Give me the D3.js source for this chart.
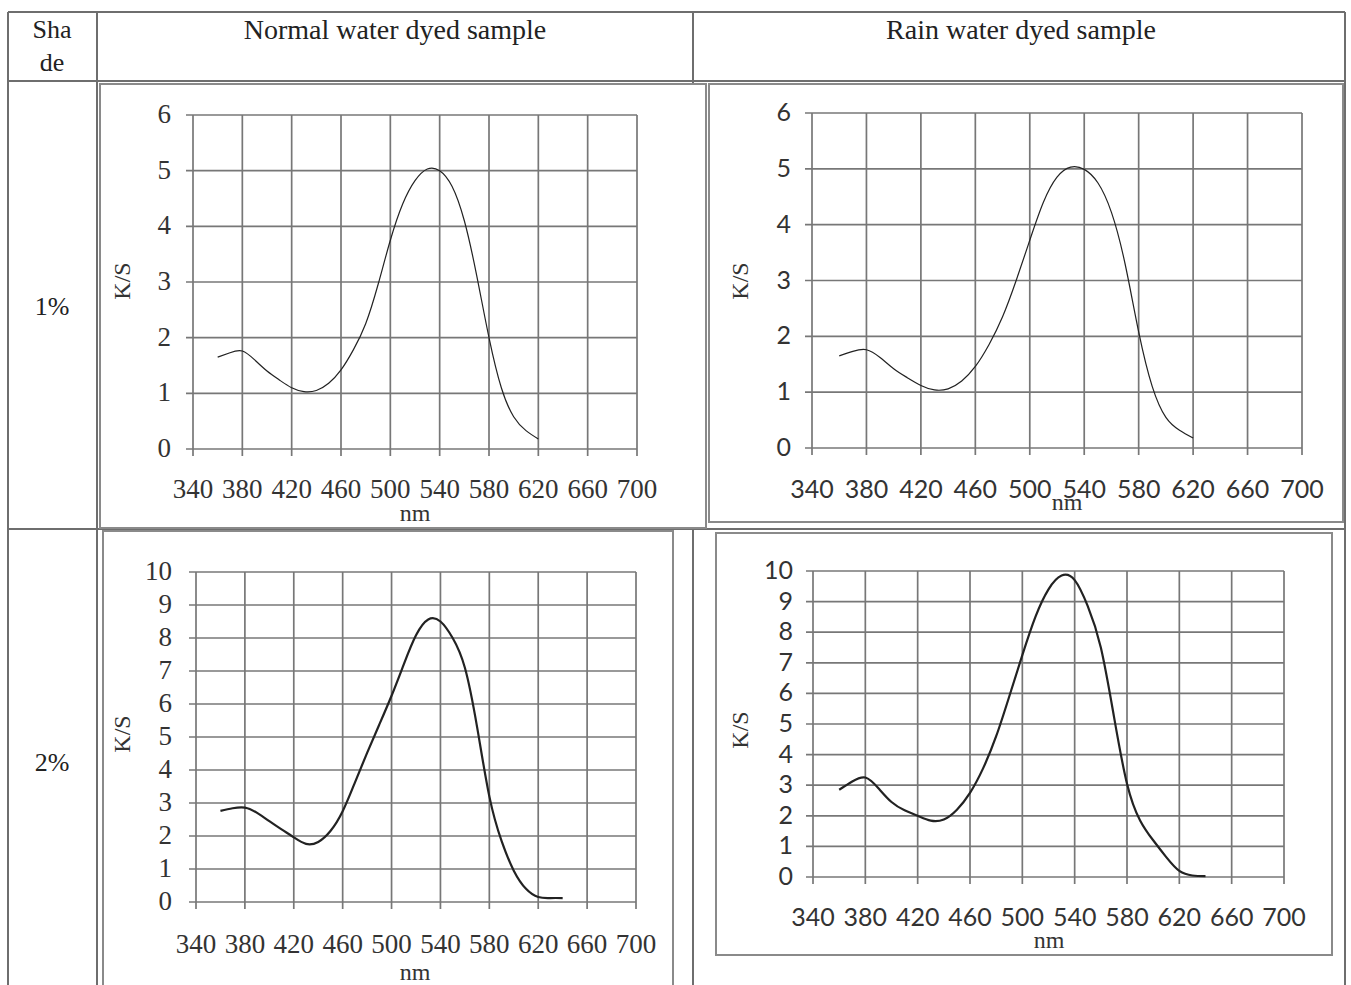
<!DOCTYPE html>
<html>
<head>
<meta charset="utf-8">
<script src="https://cdn.jsdelivr.net/npm/d3@7"></script>
<style>
  body { margin: 0; background: #fff; }
  svg { display: block; }
</style>
</head>
<body>
<svg id="chart" width="1351" height="985"></svg>
<script>
(function () {
    'use strict';

    // wavelength (nm) at which K/S was measured
    var wavelength1 = [360, 370, 380, 390, 400, 410, 420, 430, 440, 450, 460, 470, 480, 490, 500,
        510, 520, 530, 540, 550, 560, 570, 580, 590, 600, 610, 620];
    var wavelength2 = wavelength1.concat([630, 640]);

    // K/S values
    var normal1 = [1.65, 1.73, 1.76, 1.60, 1.40, 1.24, 1.10, 1.03, 1.05, 1.18, 1.42, 1.78, 2.25, 2.95, 3.75,
        4.40, 4.82, 5.03, 5.00, 4.72, 4.10, 3.12, 2.00, 1.10, 0.58, 0.33, 0.18];
    var rain1 = [1.65, 1.73, 1.76, 1.62, 1.42, 1.26, 1.12, 1.04, 1.06, 1.20, 1.46, 1.85, 2.35, 3.00, 3.72,
        4.40, 4.85, 5.03, 4.99, 4.75, 4.22, 3.30, 2.08, 1.10, 0.55, 0.32, 0.18];
    var normal2 = [2.76, 2.84, 2.86, 2.70, 2.45, 2.20, 1.96, 1.76, 1.82, 2.15, 2.75, 3.62, 4.52, 5.38, 6.25,
        7.20, 8.08, 8.56, 8.50, 8.00, 7.10, 5.30, 3.20, 1.85, 0.95, 0.40, 0.15, 0.12, 0.12];
    var rain2 = [2.85, 3.12, 3.25, 2.90, 2.45, 2.18, 2.00, 1.84, 1.88, 2.20, 2.75, 3.55, 4.60, 5.90, 7.25,
        8.50, 9.40, 9.85, 9.70, 8.85, 7.50, 5.25, 3.05, 1.85, 1.20, 0.65, 0.20, 0.05, 0.03];

    var xTicks = [340, 380, 420, 460, 500, 540, 580, 620, 660, 700];
    var yTicks1 = [0, 1, 2, 3, 4, 5, 6];
    var yTicks2 = [0, 1, 2, 3, 4, 5, 6, 7, 8, 9, 10];

    var columnTitles = ['Normal water dyed sample', 'Rain water dyed sample'];
    var shadeLabels = ['1%', '2%'];

    var svg = d3.select('#chart');
    var serif = '"Liberation Serif", "DejaVu Serif", serif';
    var sans = 'Lato, "Open Sans", sans-serif';

    // table frame
    var tableColor = '#6e6e6e';
    var hLines = [12, 81, 529];
    var vLines = [8, 97, 693, 1345];
    hLines.forEach(function (y) {
        svg.append('line').attr('x1', 8).attr('x2', 1345).attr('y1', y).attr('y2', y)
            .attr('stroke', tableColor).attr('stroke-width', 2);
    });
    vLines.forEach(function (x) {
        svg.append('line').attr('x1', x).attr('x2', x).attr('y1', 12).attr('y2', 985)
            .attr('stroke', tableColor).attr('stroke-width', 2);
    });

    svg.append('text').attr('x', 52).attr('y', 38).attr('text-anchor', 'middle')
        .style('font-family', serif).style('font-size', '26px').attr('fill', '#222').text('Sha');
    svg.append('text').attr('x', 52).attr('y', 71).attr('text-anchor', 'middle')
        .style('font-family', serif).style('font-size', '26px').attr('fill', '#222').text('de');

    [395, 1021].forEach(function (cx, i) {
        svg.append('text').attr('x', cx).attr('y', 39).attr('text-anchor', 'middle')
            .style('font-family', serif).style('font-size', '28px').attr('fill', '#222')
            .text(columnTitles[i]);
    });
    [315, 771].forEach(function (y, i) {
        svg.append('text').attr('x', 52).attr('y', y).attr('text-anchor', 'middle')
            .style('font-family', serif).style('font-size', '26px').attr('fill', '#222')
            .text(shadeLabels[i]);
    });

    var charts = [
        {box: [100, 84, 706, 528], x0: 193, x1: 637, yTop: 115, yBot: 449, yMax: 6, yTicks: yTicks1,
            yLabX: 171, xLabY: 498, nm: [415, 521], ks: [122, 281], font: serif, fs: 27, width: 1.2,
            xs: wavelength1, ys: normal1},
        {box: [709, 84, 1343, 522], x0: 812, x1: 1302, yTop: 113, yBot: 448, yMax: 6, yTicks: yTicks1,
            yLabX: 791, xLabY: 498, nm: [1067, 510], ks: [740, 281], font: sans, fs: 25, width: 1.2,
            xs: wavelength1, ys: rain1},
        {box: [103, 531, 673, 992], x0: 196, x1: 636, yTop: 572, yBot: 902, yMax: 10, yTicks: yTicks2,
            yLabX: 172, xLabY: 953, nm: [415, 980], ks: [122, 734], font: serif, fs: 27, width: 2.2,
            xs: wavelength2, ys: normal2},
        {box: [716, 533, 1332, 955], x0: 813, x1: 1284, yTop: 571, yBot: 877, yMax: 10, yTicks: yTicks2,
            yLabX: 793, xLabY: 926, nm: [1049, 948], ks: [740, 730], font: sans, fs: 25, width: 2.2,
            xs: wavelength2, ys: rain2}
    ];

    charts.forEach(drawChart);

    function drawChart(c) {
        var g = svg.append('g');
        var gridColor = '#777';

        g.append('rect')
            .attr('x', c.box[0]).attr('y', c.box[1])
            .attr('width', c.box[2] - c.box[0]).attr('height', c.box[3] - c.box[1])
            .attr('fill', '#fff').attr('stroke', '#8a8a8a').attr('stroke-width', 2);

        var x = d3.scaleLinear().domain([340, 700]).range([c.x0, c.x1]);
        var y = d3.scaleLinear().domain([0, c.yMax]).range([c.yBot, c.yTop]);

        // vertical grid + ticks below
        g.append('g').selectAll('line').data(xTicks).join('line')
            .attr('x1', function (d) { return x(d); }).attr('x2', function (d) { return x(d); })
            .attr('y1', c.yTop).attr('y2', c.yBot + 7)
            .attr('stroke', gridColor).attr('stroke-width', 1.7);

        // horizontal grid + ticks left
        g.append('g').selectAll('line').data(c.yTicks).join('line')
            .attr('x1', c.x0 - 7).attr('x2', c.x1)
            .attr('y1', function (d) { return y(d); }).attr('y2', function (d) { return y(d); })
            .attr('stroke', gridColor).attr('stroke-width', 1.7);

        g.append('g').selectAll('text').data(xTicks).join('text')
            .attr('x', function (d) { return x(d); }).attr('y', c.xLabY)
            .attr('text-anchor', 'middle')
            .style('font-family', c.font).style('font-size', c.fs + 'px').attr('fill', '#333')
            .text(function (d) { return d; });

        g.append('g').selectAll('text').data(c.yTicks).join('text')
            .attr('x', c.yLabX).attr('y', function (d) { return y(d) + 8; })
            .attr('text-anchor', 'end')
            .style('font-family', c.font).style('font-size', c.fs + 'px').attr('fill', '#333')
            .text(function (d) { return d; });

        g.append('text').attr('x', c.nm[0]).attr('y', c.nm[1]).attr('text-anchor', 'middle')
            .style('font-family', serif).style('font-size', '24px').attr('fill', '#333').text('nm');

        g.append('text')
            .attr('transform', 'translate(' + (c.ks[0] + 8) + ',' + c.ks[1] + ') rotate(-90)')
            .attr('text-anchor', 'middle')
            .style('font-family', serif).style('font-size', '24px').attr('fill', '#333').text('K/S');

        var line = d3.line()
            .x(function (d, i) { return x(c.xs[i]); })
            .y(function (d) { return y(d); })
            .curve(d3.curveNatural);

        g.append('path')
            .datum(c.ys)
            .attr('d', line)
            .attr('fill', 'none')
            .attr('stroke', '#222')
            .attr('stroke-width', c.width);
    }
})();
</script>
</body>
</html>
